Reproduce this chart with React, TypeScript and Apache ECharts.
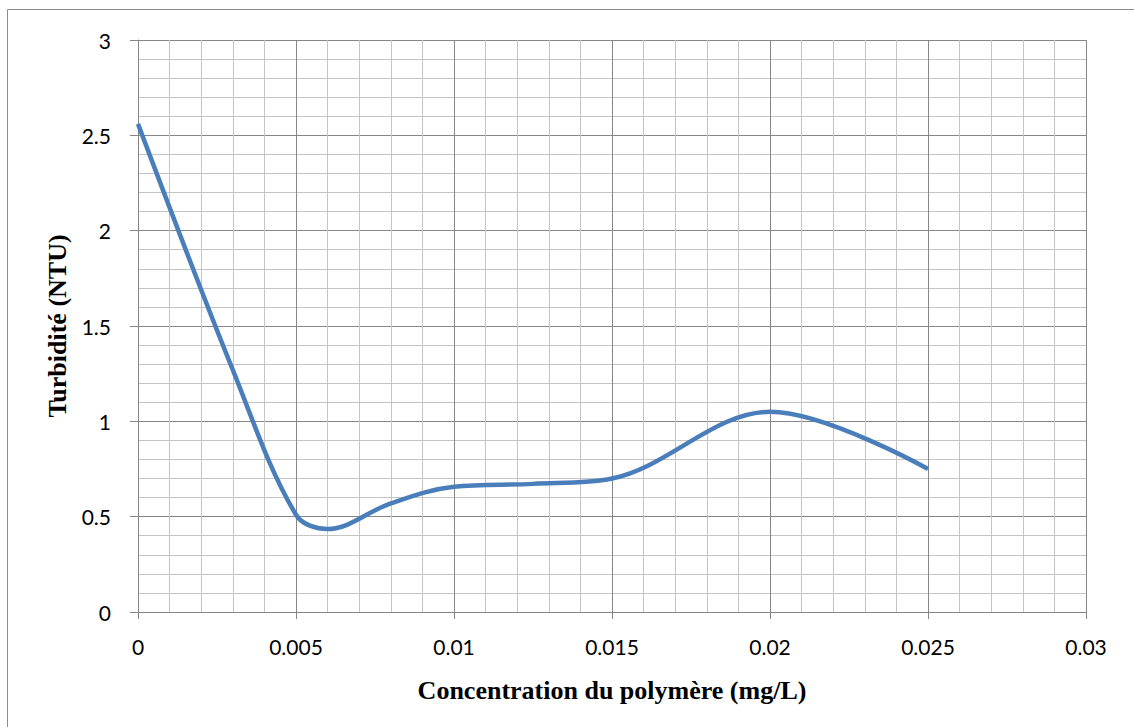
import React, { useEffect, useRef } from "react";
import * as echarts from "echarts";

const concentration = [0, 0.003, 0.005, 0.006, 0.008, 0.01, 0.0125, 0.015, 0.02, 0.025];
const turbidity = [2.56, 1.27, 0.51, 0.435, 0.57, 0.657, 0.672, 0.7, 1.05, 0.75];
const xTitle = "Concentration du polymère (mg/L)";
const yTitle = "Turbidité (NTU)";

export default function App() {
  const ref = useRef<HTMLDivElement>(null);
  useEffect(() => {
    document.body.style.margin = "0";
    const chart = echarts.init(ref.current!, null, { renderer: "svg" });
    const data = concentration.map((c, i) => [c, turbidity[i]]);
    const major = "#868686";
    const minor = "#c4c4c4";
    chart.setOption({
      animation: false,
      backgroundColor: "#ffffff",
      grid: { left: 138, right: 48, top: 40, bottom: 115, containLabel: false },
      xAxis: {
        type: "value",
        min: 0,
        max: 0.03,
        interval: 0.005,
        axisLine: { show: true, lineStyle: { color: major, width: 1 } },
        axisTick: { show: true, length: 7, lineStyle: { color: major } },
        axisLabel: { color: "#000", fontFamily: "Lato", fontSize: 21, margin: 24 },
        splitLine: { show: true, lineStyle: { color: major, width: 1 } },
        minorTick: { show: false, splitNumber: 5 },
        minorSplitLine: { show: true, lineStyle: { color: minor, width: 1 } },
      },
      yAxis: {
        type: "value",
        min: 0,
        max: 3,
        interval: 0.5,
        axisLine: { show: true, lineStyle: { color: major, width: 1 } },
        axisTick: { show: true, length: 8, lineStyle: { color: major } },
        axisLabel: { color: "#000", fontFamily: "Lato", fontSize: 21, margin: 27 },
        splitLine: { show: true, lineStyle: { color: major, width: 1 } },
        minorTick: { show: false, splitNumber: 5 },
        minorSplitLine: { show: true, lineStyle: { color: minor, width: 1 } },
      },
      series: [
        {
          type: "line",
          data,
          smooth: 0.35,
          showSymbol: false,
          lineStyle: { color: "#4a7ebb", width: 4.5 },
          itemStyle: { color: "#4a7ebb" },
        },
      ],
      graphic: [
        {
          type: "rect",
          shape: { x: 7.5, y: 9.5, width: 1140, height: 730 },
          style: { fill: "none", stroke: "#8c8c8c", lineWidth: 1 },
          silent: true,
        },
        {
          type: "text",
          x: 612,
          y: 690,
          style: {
            text: xTitle,
            fontFamily: "Liberation Serif",
            fontWeight: "bold",
            fontSize: 26,
            fill: "#000",
            align: "center",
            verticalAlign: "middle",
          },
        },
        {
          type: "text",
          x: 57,
          y: 326,
          rotation: Math.PI / 2,
          style: {
            text: yTitle,
            fontFamily: "Liberation Serif",
            fontWeight: "bold",
            fontSize: 26,
            fill: "#000",
            align: "center",
            verticalAlign: "middle",
          },
        },
      ],
    });
    return () => chart.dispose();
  }, []);
  return <div ref={ref} style={{ width: 1134, height: 727 }} />;
}
